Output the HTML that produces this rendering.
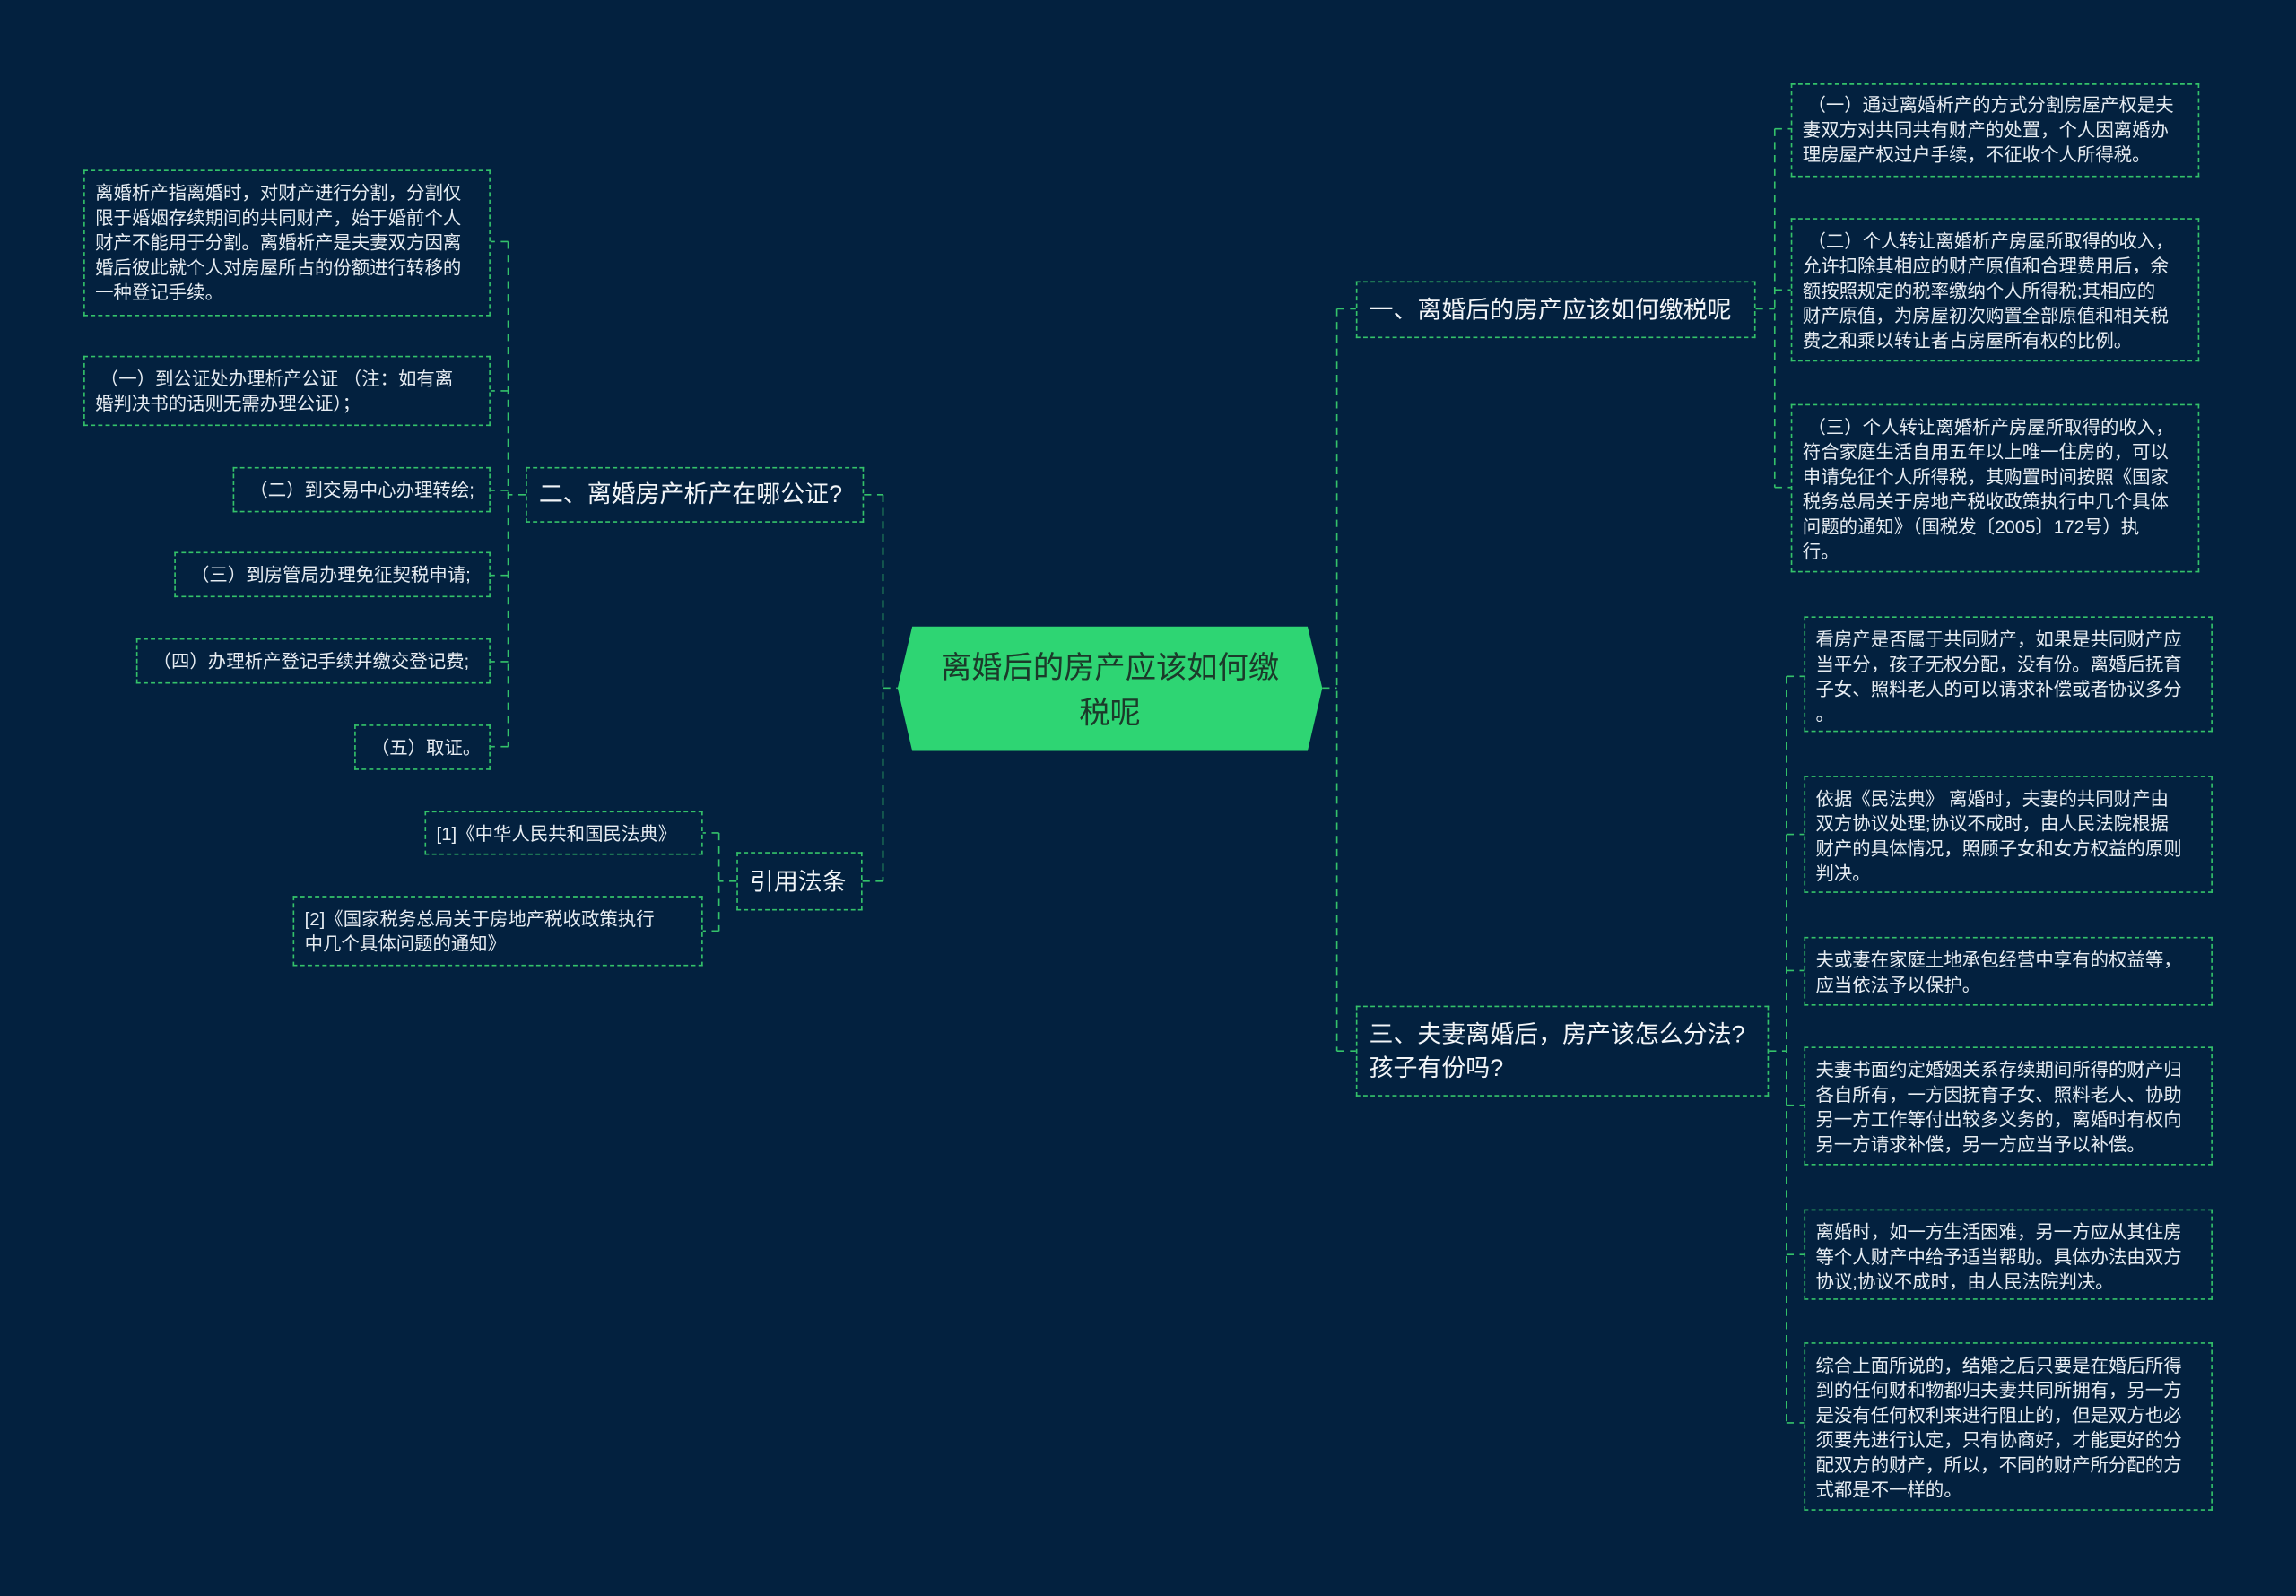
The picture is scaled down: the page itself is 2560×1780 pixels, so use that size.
<!DOCTYPE html>
<html><head><meta charset="utf-8"><style>
html,body{margin:0;padding:0;background:#03213f;}
body{width:2560px;height:1780px;overflow:hidden;}
#c{position:absolute;left:0;top:0;width:1568px;height:1090px;transform:scale(1.63265);transform-origin:0 0;font-family:"Liberation Sans","Noto Sans CJK SC",sans-serif;}
.b{position:absolute;box-sizing:border-box;border:1px dashed #34c26a;color:#e6ecf2;font-size:12.5px;line-height:17px;padding:7px 7px;white-space:nowrap;}
.t{font-size:16.5px;line-height:23px;color:#f2f5f8;padding:8px 8px;}
svg{position:absolute;left:0;top:0;}
</style></head><body><div id="c">
<svg width="1568" height="1090" fill="none" stroke="#34c26a" stroke-width="1" stroke-dasharray="5,4">
<path d="M603 470H613M903 470H913"/>
<path d="M913 211V718M913 211H926M913 718H926"/>
<path d="M1199 211H1212M1212 88V333M1212 88H1223M1212 198H1223M1212 333H1223"/>
<path d="M1208 718H1220M1220 462V972M1220 462H1232M1220 570H1232M1220 663H1232M1220 755H1232M1220 857H1232M1220 972H1232"/>
<path d="M603 338V602M590 338H603M589 602H603"/>
<path d="M359 338H347M347 165V510M347 165H335M347 267H335M347 335H335M347 393H335M347 452H335M347 510H335"/>
<path d="M503 602H491M491 569V636M491 569H480M491 636H480"/>
</svg>
<svg width="1568" height="1090"><polygon points="623,428 893,428 903,470 893,513 623,513 613,470" fill="#2ed573"/></svg>
<div style="position:absolute;left:623px;top:441px;width:270px;text-align:center;font-size:21px;line-height:31px;color:#1b3a2a;">离婚后的房产应该如何缴<br>税呢</div>

<div class="b t" style="left:926px;top:192px;width:273px;height:39px;padding-top:8px;">一、离婚后的房产应该如何缴税呢</div>
<div class="b" style="left:1223px;top:57px;width:279px;height:64px;padding-top:6px;">&nbsp;（一）通过离婚析产的方式分割房屋产权是夫<br>妻双方对共同共有财产的处置，个人因离婚办<br>理房屋产权过户手续，不征收个人所得税。</div>
<div class="b" style="left:1223px;top:149px;width:279px;height:98px;">&nbsp;（二）个人转让离婚析产房屋所取得的收入，<br>允许扣除其相应的财产原值和合理费用后，余<br>额按照规定的税率缴纳个人所得税;其相应的<br>财产原值，为房屋初次购置全部原值和相关税<br>费之和乘以转让者占房屋所有权的比例。</div>
<div class="b" style="left:1223px;top:276px;width:279px;height:115px;">&nbsp;（三）个人转让离婚析产房屋所取得的收入，<br>符合家庭生活自用五年以上唯一住房的，可以<br>申请免征个人所得税，其购置时间按照《国家<br>税务总局关于房地产税收政策执行中几个具体<br>问题的通知》（国税发〔2005〕172号）执<br>行。</div>

<div class="b t" style="left:926px;top:687px;width:282px;height:62px;">三、夫妻离婚后，房产该怎么分法?<br>孩子有份吗?</div>
<div class="b" style="left:1232px;top:421px;width:279px;height:79px;">看房产是否属于共同财产，如果是共同财产应<br>当平分，孩子无权分配，没有份。离婚后抚育<br>子女、照料老人的可以请求补偿或者协议多分<br>。</div>
<div class="b" style="left:1232px;top:530px;width:279px;height:80px;">依据《民法典》 离婚时，夫妻的共同财产由<br>双方协议处理;协议不成时，由人民法院根据<br>财产的具体情况，照顾子女和女方权益的原则<br>判决。</div>
<div class="b" style="left:1232px;top:640px;width:279px;height:47px;">夫或妻在家庭土地承包经营中享有的权益等，<br>应当依法予以保护。</div>
<div class="b" style="left:1232px;top:715px;width:279px;height:81px;">夫妻书面约定婚姻关系存续期间所得的财产归<br>各自所有，一方因抚育子女、照料老人、协助<br>另一方工作等付出较多义务的，离婚时有权向<br>另一方请求补偿，另一方应当予以补偿。</div>
<div class="b" style="left:1232px;top:826px;width:279px;height:62px;">离婚时，如一方生活困难，另一方应从其住房<br>等个人财产中给予适当帮助。具体办法由双方<br>协议;协议不成时，由人民法院判决。</div>
<div class="b" style="left:1232px;top:917px;width:279px;height:115px;">综合上面所说的，结婚之后只要是在婚后所得<br>到的任何财和物都归夫妻共同所拥有，另一方<br>是没有任何权利来进行阻止的，但是双方也必<br>须要先进行认定，只有协商好，才能更好的分<br>配双方的财产，所以，不同的财产所分配的方<br>式都是不一样的。</div>

<div class="b t" style="left:359px;top:319px;width:231px;height:38px;padding-top:7px;">二、离婚房产析产在哪公证?</div>
<div class="b" style="left:57px;top:116px;width:278px;height:100px;">离婚析产指离婚时，对财产进行分割，分割仅<br>限于婚姻存续期间的共同财产，始于婚前个人<br>财产不能用于分割。离婚析产是夫妻双方因离<br>婚后彼此就个人对房屋所占的份额进行转移的<br>一种登记手续。</div>
<div class="b" style="left:57px;top:243px;width:278px;height:48px;">&nbsp;（一）到公证处办理析产公证 （注：如有离<br>婚判决书的话则无需办理公证）；</div>
<div class="b" style="left:159px;top:319px;width:176px;height:31px;">&nbsp;（二）到交易中心办理转绘;</div>
<div class="b" style="left:119px;top:377px;width:216px;height:31px;">&nbsp;（三）到房管局办理免征契税申请;</div>
<div class="b" style="left:93px;top:436px;width:242px;height:31px;">&nbsp;（四）办理析产登记手续并缴交登记费;</div>
<div class="b" style="left:242px;top:495px;width:93px;height:31px;">&nbsp;（五）取证。</div>

<div class="b t" style="left:503px;top:582px;width:86px;height:40px;padding-top:9px;">引用法条</div>
<div class="b" style="left:290px;top:554px;width:190px;height:30px;">[1]《中华人民共和国民法典》</div>
<div class="b" style="left:200px;top:612px;width:280px;height:48px;">[2]《国家税务总局关于房地产税收政策执行<br>中几个具体问题的通知》</div>
</div></body></html>
